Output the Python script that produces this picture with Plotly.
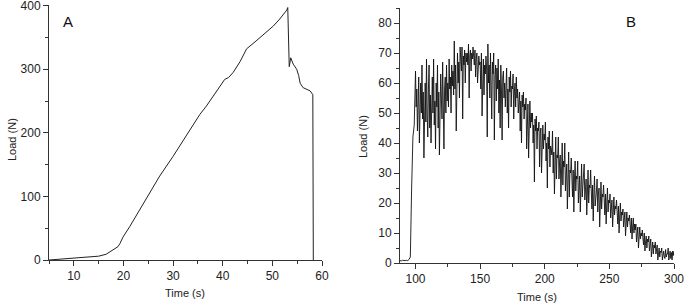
import plotly.graph_objects as go
from plotly.subplots import make_subplots

# panel A: load vs time
time_a = [5, 7, 10, 13, 15, 16.5, 17.3, 18.2, 18.9, 19.3, 19.9, 21.3, 23.3, 25, 27.3, 30,
          32.7, 35.4, 36.7, 38.5, 40.4, 41.2, 42.1, 43.5, 44.8, 46.5, 48.8, 50.2, 51.5,
          52.9, 53.1, 53.25, 53.4, 53.7, 54.2, 54.9, 55.3, 55.6, 56.2, 57.6, 58.15, 58.25]
load_a = [0, 1, 3, 4, 6, 9, 13, 17, 21, 26, 36, 53, 79, 100, 132, 163,
          195, 229, 242, 262, 284, 287, 295, 312, 332, 343, 358, 368, 379,
          393, 397, 305, 304, 318, 308, 300, 290, 278, 271, 266, 260, 0]

# panel B: 1 s samples before loading, then 0.5 s samples 100 s .. 300 s
time_b = list(range(88, 100)) + [100 + 0.5 * i for i in range(401)]
load_b = [
    0.8, 0.7, 0.9, 0.8, 0.8, 0.9, 0.8, 1.2, 2, 25, 42, 46,
    64, 52, 58, 44, 56, 62, 40, 55, 60, 50,
    66, 48, 57, 35, 54, 60, 47, 68, 50, 42,
    58, 66, 45, 56, 40, 55, 62, 50, 68, 46,
    54, 38, 60, 52, 66, 45, 57, 36, 58, 63,
    55, 48, 67, 52, 38, 58, 62, 50, 66, 54,
    60, 52, 68, 58, 62, 50, 66, 59, 64, 56,
    74, 58, 66, 44, 65, 70, 60, 67, 55, 72,
    68, 64, 72, 48, 69, 66, 71, 60, 70, 67,
    70, 66, 73, 55, 69, 71, 64, 70, 68, 72,
    69, 66, 71, 62, 68, 70, 60, 67, 69, 66,
    67, 58, 70, 49, 65, 68, 56, 66, 63, 69,
    65, 42, 73, 60, 66, 55, 70, 62, 48, 67,
    63, 70, 41, 62, 66, 54, 65, 58, 68, 50,
    61, 45, 66, 58, 41, 62, 64, 55, 60, 52,
    60, 65, 50, 58, 45, 62, 57, 64, 52, 59,
    58, 63, 48, 57, 60, 52, 62, 55, 58, 50,
    55, 57, 44, 54, 40, 56, 52, 57, 48, 53,
    51, 55, 38, 50, 53, 35, 49, 54, 45, 50,
    47, 50, 40, 46, 27, 48, 44, 49, 38, 45,
    44, 47, 32, 43, 45, 30, 42, 46, 38, 43,
    41, 47, 34, 40, 25, 42, 38, 44, 32, 39,
    38, 36, 44, 30, 37, 23, 39, 42, 28, 36,
    35, 42, 28, 34, 36, 22, 33, 40, 26, 34,
    32, 40, 24, 31, 33, 18, 30, 37, 22, 31,
    30, 35, 29, 22, 31, 17, 28, 34, 24, 29,
    28, 34, 20, 27, 29, 17, 26, 33, 22, 27,
    27, 33, 21, 26, 28, 16, 25, 31, 20, 26,
    25, 31, 24, 18, 26, 14, 23, 29, 19, 24,
    24, 28, 17, 23, 25, 12, 22, 27, 18, 23,
    22, 26, 21, 16, 23, 13, 20, 25, 17, 21,
    20, 23, 15, 19, 21, 12, 18, 22, 16, 19,
    18, 21, 17, 13, 19, 10, 16, 20, 14, 17,
    16, 18, 12, 15, 17, 9, 14, 17, 12, 15,
    14, 16, 13, 10, 15, 8, 12, 15, 10, 13,
    11, 13, 7, 10, 12, 5, 9, 12, 8, 10,
    9, 11, 8, 6, 10, 4, 7, 9, 5, 8,
    7, 9, 4, 6, 8, 2, 5, 7, 3, 6,
    5, 7, 3, 4, 6, 1, 3, 5, 2, 4,
    3.5, 5, 1, 3, 4, 2, 1.5, 4.5, 2, 3,
    3, 5, 1, 2.5, 4, 1.5, 3.5, 1, 4, 2.5, 4,
]

fig = make_subplots(rows=1, cols=2)
fig.add_trace(go.Scatter(x=time_a, y=load_a, mode="lines",
                         line=dict(color="#222", width=1)), row=1, col=1)
fig.add_trace(go.Scatter(x=time_b, y=load_b, mode="lines",
                         line=dict(color="#111", width=0.9)), row=1, col=2)

axis_style = dict(showline=True, linecolor="#333", linewidth=1, showgrid=False,
                  zeroline=False, ticks="outside", ticklen=5, tickcolor="#333",
                  automargin=False, ticklabeloverflow="allow",
                  tickfont=dict(size=12, color="#222"))
fig.update_xaxes(axis_style)
fig.update_yaxes(axis_style)

W, H = 685, 305


def label(text, x, y, angle=0, size=11):
    # axis titles and panel letters placed in pixel terms
    return dict(text=text, x=x / W, y=1 - y / H, xref="paper", yref="paper",
                xanchor="center", yanchor="middle",
                showarrow=False, textangle=angle,
                font=dict(size=size, color="#222" if size < 13 else "#111"))


fig.update_layout(
    width=W, height=H, template="plotly_white", showlegend=False,
    margin=dict(l=0, r=0, t=0, b=0),
    font=dict(family="Liberation Sans, Arial", color="#222"),
    xaxis=dict(domain=[49/W, 322/W], range=[5, 60], dtick=10,
               minor=dict(dtick=5, ticks="outside", ticklen=3, tickcolor="#333")),
    yaxis=dict(domain=[45/H, 300/H], range=[0, 401], dtick=100,
               minor=dict(dtick=50, ticks="outside", ticklen=3, tickcolor="#333")),
    xaxis2=dict(domain=[400/W, 674/W], range=[88, 300], dtick=50,
                minor=dict(dtick=25, ticks="outside", ticklen=3, tickcolor="#333")),
    yaxis2=dict(domain=[42/H, 297/H], range=[0, 85], dtick=10,
                minor=dict(dtick=5, ticks="outside", ticklen=3, tickcolor="#333")),
    annotations=[
        label("Time (s)", 185, 293),
        label("Load (N)", 12, 140, angle=-90),
        label("Time (s)", 537, 297),
        label("Load (N)", 363, 137, angle=-90),
        label("A", 68, 22, size=15),
        label("B", 631, 22, size=15),
    ],
)

# page has a default 8px body margin; drop it so the chart sits at the window corner
fig.write_html("out.html", config={"displayModeBar": False},
               post_script="document.body.style.margin='0';")
